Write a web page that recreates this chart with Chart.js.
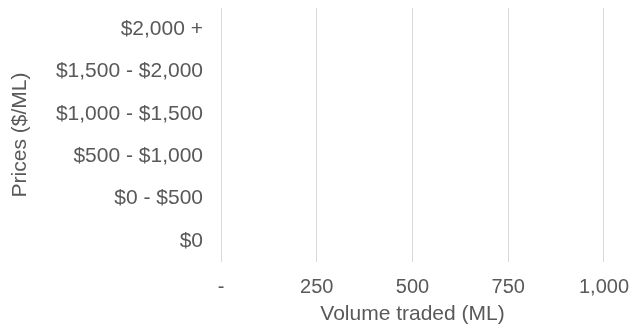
<!DOCTYPE html>
<html lang="en">
<head>
    <meta charset="UTF-8">
    <title>Volume traded by price band</title>
    <script src="https://cdn.jsdelivr.net/npm/chart.js"></script>
    <style>
        body { margin: 0; background: #ffffff; }
        .chart-wrap { width: 642px; height: 331px; position: relative; }
    </style>
</head>
<body>
    <div class="chart-wrap">
        <canvas id="volumeChart"></canvas>
    </div>

    <script>
        // price bands, top to bottom as shown
        const priceBands = ["$2,000 +", "$1,500 - $2,000", "$1,000 - $1,500", "$500 - $1,000", "$0 - $500", "$0"];
        // no trades recorded in any band
        const volumeTraded = [0, 0, 0, 0, 0, 0];
        const xTicks = [0, 250, 500, 750, 1000];

        const textColor = '#595959';
        const gridColor = '#d9d9d9';
        const fontFamily = "'Liberation Sans', Arial, sans-serif";

        new Chart(document.getElementById('volumeChart'), {
            type: 'bar',
            data: {
                labels: priceBands,
                datasets: [{
                    label: 'Volume traded (ML)',
                    data: volumeTraded,
                    backgroundColor: '#4472c4'
                }]
            },
            options: {
                indexAxis: 'y',
                responsive: true, maintainAspectRatio: false,
                animation: false,
                layout: { padding: { top: 8, right: 37, left: 0, bottom: 0 } },
                plugins: { legend: { display: false }, tooltip: { enabled: false } },
                scales: {
                    x: {
                        min: xTicks[0], max: xTicks[xTicks.length - 1],
                        afterBuildTicks: function (scale) {
                            scale.ticks = xTicks.map(v => ({ value: v }));
                        },
                        afterFit: function (scale) { scale.height = 69; },
                        grid: { color: gridColor, lineWidth: 1, drawTicks: false },
                        border: { display: false },
                        ticks: {
                            color: textColor, padding: 13,
                            font: { family: fontFamily, size: 20 },
                            callback: function (v) { return v === 0 ? '-' : v.toLocaleString('en-US'); }
                        },
                        title: {
                            display: true, text: 'Volume traded (ML)', color: textColor,
                            font: { family: fontFamily, size: 21 },
                            padding: { top: 0, bottom: 4 }
                        }
                    },
                    y: {
                        afterFit: function (scale) {
                            scale.width = 221;
                            scale.paddingTop = 0;
                            scale.paddingBottom = 0;
                        },
                        grid: { display: false, drawTicks: true, tickLength: 18 },
                        border: { display: false },
                        ticks: {
                            color: textColor, padding: 0,
                            font: { family: fontFamily, size: 21 }
                        },
                        title: {
                            display: true, text: 'Prices ($/ML)', color: textColor,
                            font: { family: fontFamily, size: 21 },
                            padding: { top: 8, bottom: 0 }
                        }
                    }
                }
            }
        });
    </script>
</body>
</html>
